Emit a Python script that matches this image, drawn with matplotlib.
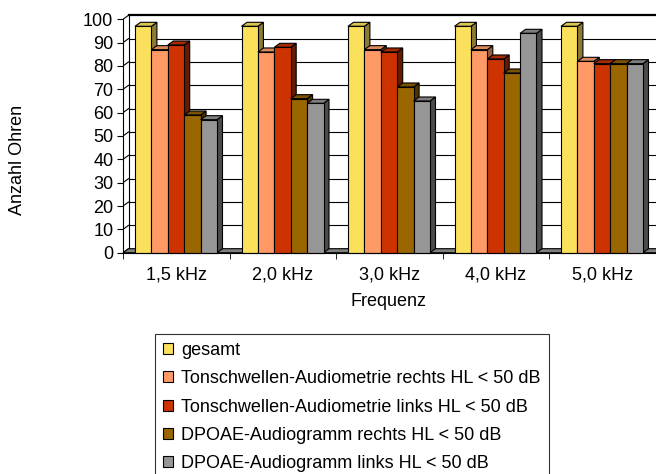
import matplotlib
matplotlib.use("Agg")
import matplotlib.pyplot as plt
import matplotlib.patches as patches

plt.rcParams['font.family'] = ['Liberation Sans', 'DejaVu Sans']

categories = ['1,5 kHz', '2,0 kHz', '3,0 kHz', '4,0 kHz', '5,0 kHz']
series_names = ['gesamt',
                'Tonschwellen-Audiometrie rechts HL < 50 dB',
                'Tonschwellen-Audiometrie links HL < 50 dB',
                'DPOAE-Audiogramm rechts HL < 50 dB',
                'DPOAE-Audiogramm links HL < 50 dB']
gesamt = [97, 97, 97, 97, 97]
ton_rechts = [87, 86, 87, 87, 82]
ton_links = [89, 88, 86, 83, 81]
dpoae_rechts = [59, 66, 71, 77, 81]
dpoae_links = [57, 64, 65, 94, 81]
series = [gesamt, ton_rechts, ton_links, dpoae_rechts, dpoae_links]

# front, top, side colours
front_cols = ['#FBE05C', '#FF9966', '#CC3300', '#996600', '#969696']
top_cols = ['#D9C552', '#DB8A5E', '#A62900', '#7A5200', '#7D7D7D']
side_cols = ['#8C7B33', '#995C3D', '#661A00', '#4D3300', '#4B4B4B']

W, H = 656, 474
fs = 13
fig = plt.figure(figsize=(W / 100, H / 100), dpi=100)

# pixel geometry of the plot area
px_left, px_right = 123, 656
px_zero, px_top = 252.7, 10
px_per_cat = 106.5
px_per_unit = 2.334
ymax = (px_zero - px_top) / px_per_unit
ax = fig.add_axes([px_left / W, (H - px_zero) / H,
                   (px_right - px_left) / W, (px_zero - px_top) / H])
ax.set_xlim(-0.5, -0.5 + (px_right - px_left) / px_per_cat)
ax.set_ylim(0, ymax)

# depth offset of the pseudo 3d look
ddx = 5.5 / px_per_cat
ddy = 4.0 / px_per_unit
x0, x1 = -0.5, 4.5
lw = 0.8

# back wall gridlines
for v in range(0, 101, 10):
    ax.plot([x0 + ddx, x1 + 1], [v + ddy, v + ddy], color='black',
            lw=1.6 if v == 100 else 0.8, clip_on=False, zorder=1)
    ax.plot([x0, x0 + ddx], [v, v + ddy], color='black', lw=0.8, zorder=1)
ax.plot([x0 + ddx, x0 + ddx], [ddy, 100 + ddy], color='black', lw=0.8, zorder=1)

# floor
floor = patches.Polygon([(x0, 0), (x1 + 1, 0), (x1 + 1 + ddx, ddy), (x0 + ddx, ddy)],
                        closed=True, facecolor='#808080', edgecolor='black', lw=lw,
                        clip_on=False, zorder=2)
ax.add_patch(floor)

# bars
gap = 12 / px_per_cat
bw = 16.4 / px_per_cat
z = 3
for i in range(len(categories)):
    for j, vals in enumerate(series):
        v = vals[i]
        bx = i - 0.5 + gap + j * bw
        side = patches.Polygon([(bx + bw, 0), (bx + bw + ddx, ddy), (bx + bw + ddx, v + ddy), (bx + bw, v)],
                               closed=True, facecolor=side_cols[j], edgecolor='black', lw=lw,
                               clip_on=False, zorder=z)
        top = patches.Polygon([(bx, v), (bx + bw, v), (bx + bw + ddx, v + ddy), (bx + ddx, v + ddy)],
                              closed=True, facecolor=top_cols[j], edgecolor='black', lw=lw,
                              clip_on=False, zorder=z)
        front = patches.Rectangle((bx, 0), bw, v, facecolor=front_cols[j], edgecolor='black',
                                  lw=lw, clip_on=False, zorder=z)
        ax.add_patch(side)
        ax.add_patch(top)
        ax.add_patch(front)
        z += 1

# axes
for s in ['top', 'right']:
    ax.spines[s].set_visible(False)
ax.spines['left'].set_bounds(0, 100)
ax.spines['bottom'].set_bounds(x0, x1)
ax.spines['left'].set_zorder(50)
ax.spines['bottom'].set_zorder(50)
ax.set_yticks(range(0, 101, 10))
ax.tick_params(axis='y', length=4, pad=3, labelsize=fs)
ax.set_xticks(range(len(categories)))
ax.set_xticklabels(categories)
ax.set_xticks([k - 0.5 for k in range(len(categories) + 1)], minor=True)
ax.tick_params(axis='x', which='major', length=0, pad=10, labelsize=fs)
ax.tick_params(axis='x', which='minor', length=4)

fig.text(388 / W, 1 - 302 / H, 'Frequenz', ha='center', va='center', fontsize=fs)
fig.text(18 / W, 1 - 160 / H, 'Anzahl Ohren', ha='center', va='center',
         rotation=90, fontsize=fs)

handles = [patches.Patch(facecolor=c, edgecolor='black', lw=0.8) for c in front_cols]
leg = fig.legend(handles, series_names, loc='upper left',
                 bbox_to_anchor=(155 / W, 1 - 334 / H), fontsize=fs,
                 frameon=True, fancybox=False, borderpad=0.45,
                 handlelength=0.55, handleheight=0.55, handletextpad=0.45,
                 labelspacing=0.62, borderaxespad=0)
leg.get_frame().set_edgecolor('black')
leg.get_frame().set_linewidth(0.8)

fig.savefig('out.png', dpi=100)
